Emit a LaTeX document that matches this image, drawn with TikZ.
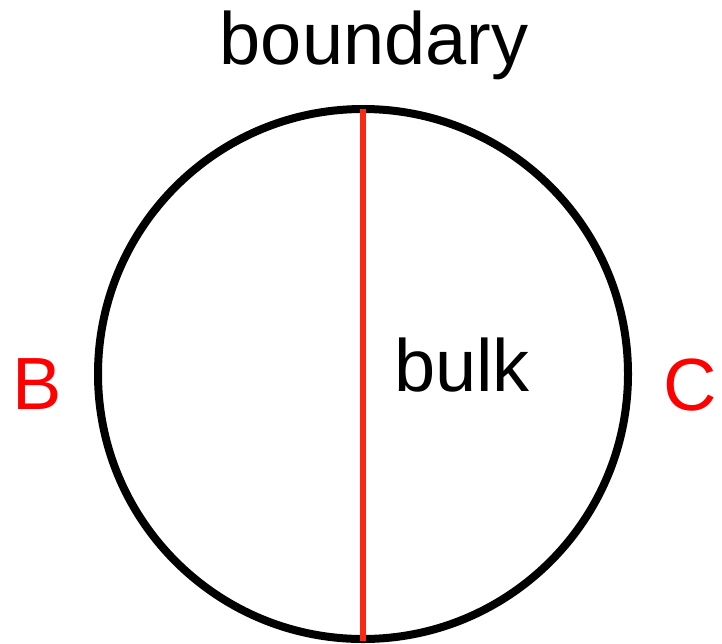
\documentclass[tikz,border=0pt]{standalone}
\usepackage{fontspec}
\setmainfont{Liberation Sans}
\definecolor{linered}{RGB}{250,40,20}
\definecolor{labelred}{RGB}{255,0,0}
\begin{document}
\begin{tikzpicture}[x=1pt,y=-1pt,
  lbl/.style={inner sep=0pt,anchor=base,font=\fontsize{74}{80}\selectfont},
  redlbl/.style={lbl,text=labelred}]
\useasboundingbox (0,0) rectangle (722,643);
\node[circle,draw=black,line width=8pt,minimum size=530pt,inner sep=0pt] (disk) at (363,374) {};
\coordinate (top) at (363,109);
\coordinate (bot) at (363,641);
\draw[linered,line width=6pt] (top) -- (bot);
\node[lbl] (boundary) at (374,64) {boundary};
\node[lbl] (bulk) at (462,391) {bulk};
\node[redlbl] (B) at (37.5,409) {B};
\node[redlbl] (C) at (690,410) {C};
\end{tikzpicture}
\end{document}
